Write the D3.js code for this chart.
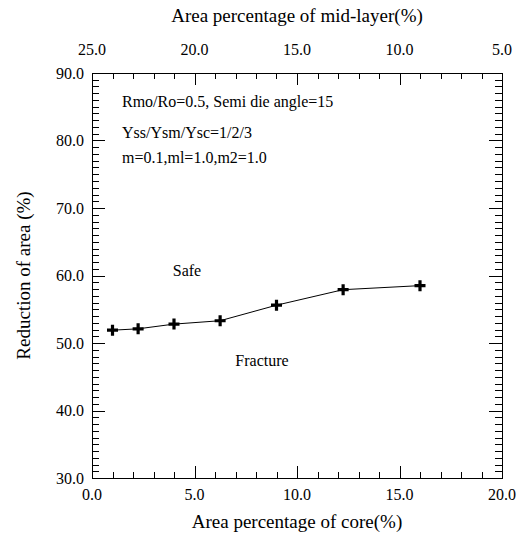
<!DOCTYPE html>
<html><head><meta charset="utf-8">
<script src="https://cdn.jsdelivr.net/npm/d3@7"></script>
<style>body{margin:0;background:#fff}svg{display:block}</style>
</head><body>
<script>
const coreArea = [1.0, 2.25, 4.0, 6.25, 9.0, 12.25, 16.0];
const reduction = [51.9, 52.1, 52.8, 53.3, 55.6, 57.9, 58.5];
const xMajorTicks = [0, 5, 10, 15, 20];
const topMajorTicks = [25, 20, 15, 10, 5];
const yMajorTicks = [30, 40, 50, 60, 70, 80, 90];
const annotations = ["Rmo/Ro=0.5, Semi die angle=15", "Yss/Ysm/Ysc=1/2/3", "m=0.1,ml=1.0,m2=1.0"];

const FONT = "Liberation Serif";
const W = 524, H = 538;
const m = {left: 92, right: 22, top: 73, bottom: 60};
const svg = d3.select("body").append("svg").attr("width", W).attr("height", H);
const iw = W - m.left - m.right, ih = H - m.top - m.bottom;
const g = svg.append("g").attr("transform", `translate(${m.left},${m.top})`);

const x = d3.scaleLinear().domain([0, 20]).range([0, iw]);
const xt = d3.scaleLinear().domain([25, 5]).range([0, iw]);
const y = d3.scaleLinear().domain([30, 90]).range([ih, 0]);

const fmt = d3.format(".1f");
const minorX = d3.range(0, 21, 1);
const minorT = d3.range(5, 26, 1);
const minorY = d3.range(30, 91, 1);

// frame
g.append("rect").attr("x", 0.5).attr("y", 0.5).attr("width", iw).attr("height", ih)
  .attr("fill", "none").attr("stroke", "#000").attr("stroke-width", 1);

const ticks = g.append("g").attr("stroke", "#000").attr("stroke-width", 1.2).attr("shape-rendering", "crispEdges");
// bottom
ticks.selectAll(".tb").data(minorX).enter().append("line")
  .attr("x1", d => Math.round(x(d)) + 0.5).attr("x2", d => Math.round(x(d)) + 0.5)
  .attr("y1", ih).attr("y2", d => ih - (d % 5 === 0 ? 12 : 6));
// top
ticks.selectAll(".tt").data(minorT).enter().append("line")
  .attr("x1", d => Math.round(xt(d)) + 0.5).attr("x2", d => Math.round(xt(d)) + 0.5)
  .attr("y1", 0).attr("y2", d => (d % 5 === 0 ? 12 : 6));
// left
ticks.selectAll(".tl").data(minorY).enter().append("line")
  .attr("y1", d => Math.round(y(d)) + 0.5).attr("y2", d => Math.round(y(d)) + 0.5)
  .attr("x1", 0).attr("x2", d => (d % 10 === 0 ? 13 : 7));
// right
ticks.selectAll(".tr").data(minorY).enter().append("line")
  .attr("y1", d => Math.round(y(d)) + 0.5).attr("y2", d => Math.round(y(d)) + 0.5)
  .attr("x1", iw).attr("x2", d => iw - (d % 10 === 0 ? 13 : 7));

function txt(xp, yp, s, size, anchor) {
  return svg.append("text").attr("x", xp).attr("y", yp).attr("text-anchor", anchor || "start")
    .attr("font-family", FONT).attr("font-size", size).attr("fill", "#000").text(s);
}
// tick labels
xMajorTicks.forEach(d => txt(m.left + x(d), 500, fmt(d), 16, "middle"));
topMajorTicks.forEach(d => txt(m.left + xt(d), 55, fmt(d), 16, "middle"));
yMajorTicks.forEach(d => txt(84, m.top + y(d) + 5.5, fmt(d), 16, "end"));

// line
const data = coreArea.map((v, i) => [v, reduction[i]]);
g.append("path").datum(data)
  .attr("fill", "none").attr("stroke", "#000").attr("stroke-width", 1)
  .attr("d", d3.line().x(d => x(d[0])).y(d => y(d[1])));
g.selectAll(".mk").data(data).enter().append("path")
  .attr("transform", d => `translate(${x(d[0])},${y(d[1])})`)
  .attr("d", "M-5.5,0H5.5M0,-5.5V5.5")
  .attr("stroke", "#000").attr("stroke-width", 3.2).attr("fill", "none");

// annotations
const annY = [107, 138, 163];
annotations.forEach((t, i) => txt(122, annY[i], t, 16));
txt(187, 276, "Safe", 16, "middle");
txt(262, 366, "Fracture", 16, "middle");

// titles
txt(m.left + iw / 2, 528, "Area percentage of core(%)", 19, "middle");
txt(m.left + iw / 2, 22, "Area percentage of mid-layer(%)", 19, "middle");
txt(0, 0, "Reduction of area (%)", 19, "middle").attr("transform", `translate(30,${m.top + ih / 2}) rotate(-90)`);
</script>
</body></html>
